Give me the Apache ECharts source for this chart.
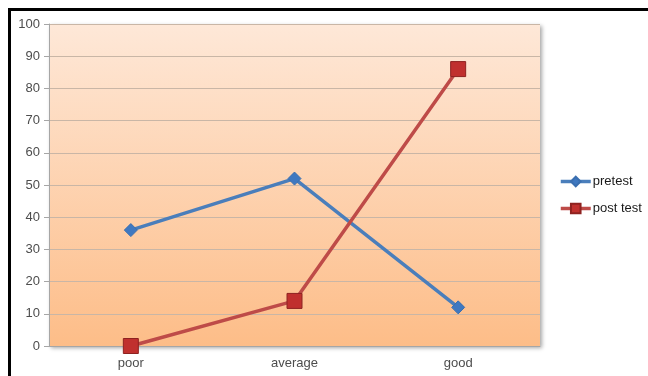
<!DOCTYPE html>
<html>
<head>
<meta charset="utf-8">
<script src="https://cdn.jsdelivr.net/npm/echarts@6/dist/echarts.min.js"></script>
<style>
html,body{margin:0;padding:0;background:#fff;}
#frame{position:absolute;left:8px;top:8px;width:640px;height:368px;border-top:3px solid #000;border-left:3px solid #000;box-sizing:border-box;}
#chart{position:absolute;left:0;top:0;width:648px;height:376px;}
</style>
</head>
<body>
<div id="chart"></div>
<div id="frame"></div>
<script>
var categories = ['poor', 'average', 'good'];
var pretest = [36, 52, 12];
var postTest = [0, 14, 86];
var yTicks = {min: 0, max: 100, interval: 10};

var chart = echarts.init(document.getElementById('chart'));
chart.setOption({
  animation: false,
  textStyle: {fontFamily: 'Liberation Sans, Arial, sans-serif'},
  grid: {
    left: 49, right: 108, top: 24, bottom: 30,
    show: true,
    borderWidth: 0,
    backgroundColor: new echarts.graphic.LinearGradient(0, 0, 0, 1, [
      {offset: 0, color: '#FEE8D8'},
      {offset: 1, color: '#FDBD88'}
    ]),
    shadowColor: 'rgba(0,0,0,0.35)',
    shadowBlur: 4,
    shadowOffsetX: 2,
    shadowOffsetY: 2
  },
  legend: {
    orient: 'vertical',
    left: 554, top: 170,
    itemGap: 14,
    itemWidth: 30, itemHeight: 12,
    lineStyle: {width: 3.5},
    textStyle: {fontSize: 13, color: '#1a1a1a', padding: [0,0,0,-3]},
    data: ['pretest', 'post test']
  },
  xAxis: {
    type: 'category',
    data: categories,
    boundaryGap: true,
    axisLine: {lineStyle: {color: '#A6A6A6', width: 1}},
    axisTick: {show: false},
    axisLabel: {color: '#4d4d4d', fontSize: 13, margin: 11}
  },
  yAxis: {
    type: 'value',
    min: yTicks.min, max: yTicks.max, interval: yTicks.interval,
    axisLine: {show: true, lineStyle: {color: '#A6A6A6', width: 1}},
    axisTick: {show: true, length: 5, lineStyle: {color: '#A6A6A6'}},
    axisLabel: {color: '#4d4d4d', fontSize: 13, margin: 9},
    splitLine: {lineStyle: {color: '#C9B6A6', width: 1}}
  },
  series: [
    {
      name: 'pretest',
      type: 'line',
      data: pretest,
      symbol: 'diamond',
      symbolSize: 13,
      lineStyle: {color: '#4A7EBB', width: 3.5},
      itemStyle: {color: '#3F78C0', borderColor: '#3A6FB0', borderWidth: 1}
    },
    {
      name: 'post test',
      type: 'line',
      data: postTest,
      symbol: 'rect',
      symbolSize: 15,
      lineStyle: {color: '#BE4B48', width: 3.5},
      itemStyle: {color: '#C0302E', borderColor: '#8E2220', borderWidth: 1}
    }
  ]
});
</script>
</body>
</html>
